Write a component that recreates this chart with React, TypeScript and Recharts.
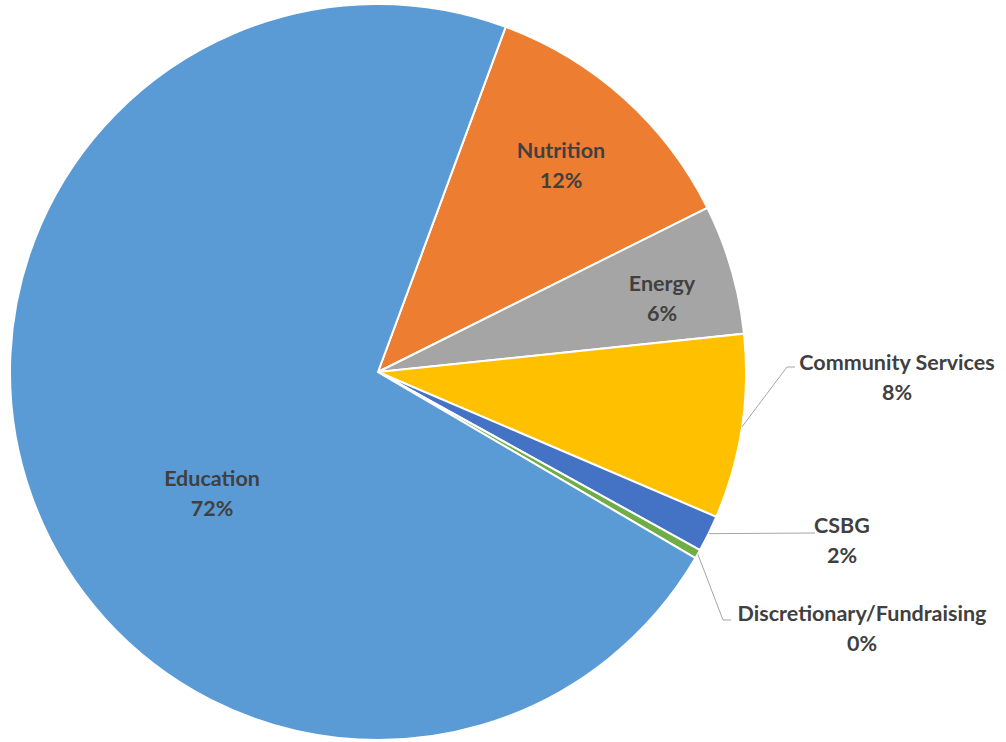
import { PieChart, Pie, Cell } from "recharts";

const categories = [
  "Nutrition",
  "Energy",
  "Community Services",
  "CSBG",
  "Discretionary/Fundraising",
  "Education",
];
const shares = [12.0, 5.7, 8.1, 1.6, 0.4, 72.2];
const percentLabels = ["12%", "6%", "8%", "2%", "0%", "72%"];
const colors = ["#ED7D31", "#A5A5A5", "#FFC000", "#4472C4", "#70AD47", "#5B9BD5"];

const data = categories.map((name, i) => ({ name, value: shares[i], pct: percentLabels[i] }));

// first-line baseline relative to pie centre; elbow of leader line for outside labels
const labelLayout: Record<string, { dx: number; dy: number; elbow?: [number, number]; tail?: number }> = {
  Nutrition: { dx: 183, dy: -214 },
  Energy: { dx: 284, dy: -81 },
  "Community Services": { dx: 519, dy: -2, elbow: [409, -5], tail: 8 },
  CSBG: { dx: 464, dy: 161, elbow: [437, 161] },
  "Discretionary/Fundraising": { dx: 484, dy: 249, elbow: [345, 248], tail: 8 },
  Education: { dx: -166, dy: 114 },
};

const RAD = Math.PI / 180;

function renderLabel(props: any) {
  const { cx, cy, midAngle, outerRadius, name, payload } = props;
  const lay = labelLayout[name];
  const tx = cx + lay.dx;
  const ty = cy + lay.dy;
  let line = null;
  if (lay.elbow) {
    const sx = cx + outerRadius * Math.cos(-midAngle * RAD);
    const sy = cy + outerRadius * Math.sin(-midAngle * RAD);
    const ex = cx + lay.elbow[0];
    const ey = cy + lay.elbow[1];
    const pts = `${sx},${sy} ${ex},${ey}` + (lay.tail ? ` ${ex + lay.tail},${ey}` : "");
    line = <polyline points={pts} fill="none" stroke="#A6A6A6" strokeWidth={1} />;
  }
  return (
    <g>
      {line}
      <text
        x={tx}
        y={ty}
        textAnchor="middle"
        fill="#404040"
        fontFamily="Lato, 'Open Sans', sans-serif"
        fontWeight={700}
        fontSize={21.5}
      >
        <tspan x={tx} dy={0}>{name}</tspan>
        <tspan x={tx} dy={30}>{payload.pct}</tspan>
      </text>
    </g>
  );
}

export default function App() {
  return (
    <div style={{ position: "absolute", left: 0, top: 0, width: 1006, height: 742, background: "#fff" }}>
      <PieChart width={1006} height={742} margin={{ top: 0, right: 0, bottom: 0, left: 0 }}>
        <Pie
          data={data}
          dataKey="value"
          nameKey="name"
          cx={378}
          cy={372}
          outerRadius={368}
          startAngle={69.7}
          endAngle={-290.3}
          stroke="#FFFFFF"
          strokeWidth={2}
          label={renderLabel}
          labelLine={false}
          isAnimationActive={false}
        >
          {data.map((d, i) => (
            <Cell key={d.name} fill={colors[i]} />
          ))}
        </Pie>
      </PieChart>
    </div>
  );
}
